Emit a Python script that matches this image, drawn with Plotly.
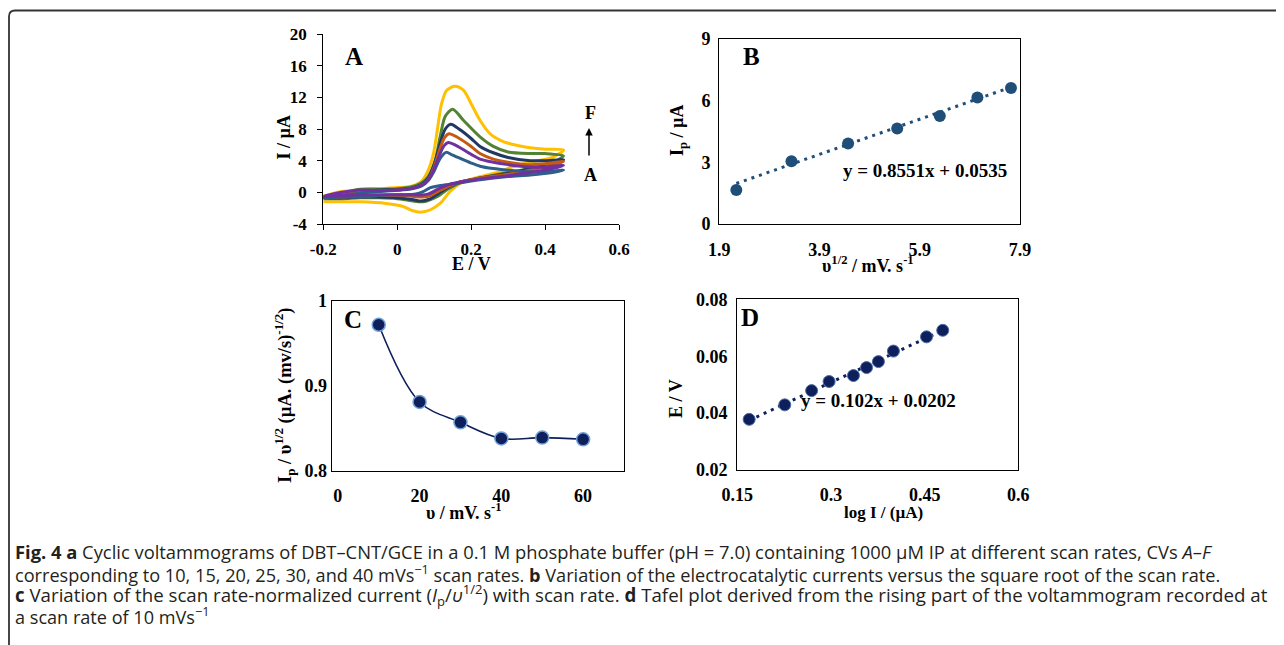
import plotly.graph_objects as go

W, H = 1284, 645
OFF = 8  # page body margin

# ---------------- Panel A: cyclic voltammograms (E / V, I / uA), loop = forward then reverse
cvA_E = [-0.2, -0.15, -0.1, -0.05, 0.0, 0.04, 0.066, 0.084, 0.1, 0.115, 0.132, 0.15, 0.2, 0.224, 0.26, 0.3, 0.36, 0.4, 0.45,
         0.42, 0.36, 0.3, 0.224, 0.17, 0.14, 0.11, 0.09, 0.07, 0.05, 0.02, 0.0, -0.05, -0.1, -0.15, -0.2]
cvA_I = [-0.7, -0.4, -0.1, 0.1, 0.25, 0.45, 0.8, 1.5, 2.7, 4.2, 5.05, 4.7, 3.7, 3.3, 3.0, 2.8, 2.6, 2.6, 2.8,
         2.5, 2.2, 2.0, 1.6, 1.2, 1.0, 0.8, 0.6, 0.1, -0.2, -0.3, -0.3, -0.4, -0.6, -0.6, -0.7]

cvB_E = [-0.2, -0.15, -0.1, -0.05, 0.0, 0.04, 0.066, 0.084, 0.1, 0.115, 0.127, 0.138, 0.16, 0.2, 0.224, 0.26, 0.3, 0.36, 0.4, 0.45,
         0.42, 0.36, 0.3, 0.224, 0.17, 0.14, 0.11, 0.085, 0.065, 0.04, 0.0, -0.05, -0.1, -0.15, -0.2]
cvB_I = [-0.5, 0.0, 0.3, 0.2, 0.3, 0.5, 0.9, 1.6, 3.0, 4.8, 5.9, 6.3, 5.9, 4.8, 4.2, 3.8, 3.5, 3.2, 3.2, 3.4,
         3.0, 2.5, 2.1, 1.7, 1.3, 1.0, 0.4, -0.2, -0.35, -0.3, -0.3, -0.3, -0.3, -0.4, -0.5]

cvC_E = [-0.2, -0.15, -0.1, -0.05, 0.0, 0.04, 0.066, 0.084, 0.1, 0.115, 0.128, 0.14, 0.165, 0.2, 0.224, 0.26, 0.3, 0.36, 0.4, 0.45,
         0.42, 0.36, 0.3, 0.224, 0.17, 0.14, 0.11, 0.085, 0.065, 0.04, 0.0, -0.05, -0.1, -0.15, -0.2]
cvC_I = [-0.6, -0.2, 0.1, 0.2, 0.3, 0.5, 0.9, 1.6, 3.2, 5.4, 6.9, 7.4, 6.9, 5.8, 4.9, 4.2, 3.8, 3.5, 3.6, 3.9,
         3.4, 2.8, 2.3, 1.8, 1.3, 0.8, 0.1, -0.5, -0.6, -0.5, -0.4, -0.4, -0.5, -0.6, -0.6]

cvD_E = [-0.2, -0.15, -0.1, -0.05, 0.0, 0.04, 0.066, 0.084, 0.1, 0.115, 0.13, 0.145, 0.17, 0.2, 0.224, 0.26, 0.3, 0.36, 0.4, 0.45,
         0.42, 0.36, 0.3, 0.224, 0.17, 0.14, 0.11, 0.085, 0.065, 0.04, 0.0, -0.05, -0.1, -0.15, -0.2]
cvD_I = [-0.7, -0.3, 0.1, 0.3, 0.35, 0.55, 1.0, 1.8, 3.5, 6.0, 8.0, 8.6, 7.9, 6.8, 5.8, 5.0, 4.4, 4.0, 4.0, 4.1,
         3.6, 3.0, 2.4, 1.8, 1.3, 0.7, -0.2, -0.9, -1.1, -0.9, -0.7, -0.6, -0.6, -0.7, -0.7]

cvE_E = [-0.2, -0.15, -0.1, -0.05, 0.0, 0.04, 0.066, 0.084, 0.103, 0.116, 0.13, 0.15, 0.179, 0.224, 0.26, 0.3, 0.36, 0.4, 0.45,
         0.42, 0.36, 0.3, 0.224, 0.17, 0.14, 0.11, 0.08, 0.06, 0.03, 0.0, -0.05, -0.1, -0.15, -0.2]
cvE_I = [-0.6, -0.1, 0.4, 0.4, 0.45, 0.7, 1.2, 2.0, 4.1, 7.0, 9.6, 10.5, 9.1, 7.0, 5.8, 5.1, 4.9, 4.9, 4.6,
         3.8, 3.0, 2.5, 1.8, 1.2, 0.5, -0.5, -1.1, -1.2, -1.0, -0.8, -0.7, -0.7, -0.8, -0.8]

cvF_E = [-0.2, -0.15, -0.1, -0.05, 0.0, 0.035, 0.05, 0.066, 0.084, 0.098, 0.107, 0.12, 0.134, 0.156, 0.179, 0.2, 0.224, 0.251, 0.278, 0.3, 0.35, 0.4, 0.45,
         0.42, 0.37, 0.31, 0.278, 0.224, 0.17, 0.143, 0.116, 0.09, 0.066, 0.04, 0.017, -0.03, -0.1, -0.15, -0.2]
cvF_I = [-0.5, 0.1, 0.3, 0.45, 0.6, 0.75, 0.95, 1.4, 2.8, 4.9, 7.4, 11.2, 12.9, 13.4, 12.9, 11.2, 9.1, 7.4, 6.6, 6.2, 5.7, 5.45, 5.35,
         4.4, 3.9, 3.2, 2.6, 1.97, 1.13, 0.1, -1.4, -2.2, -2.5, -2.3, -1.8, -1.4, -1.2, -1.2, -1.2]

# ---------------- Panel B
b_x = [2.24, 3.34, 4.47, 5.45, 6.30, 7.05, 7.72]
b_y = [1.65, 3.05, 3.92, 4.65, 5.25, 6.15, 6.62]
b_slope, b_icpt = 0.8551, 0.0535

# ---------------- Panel C
c_x = [10, 20, 30, 40, 50, 60]
c_y = [0.972, 0.881, 0.857, 0.838, 0.839, 0.837]

# ---------------- Panel D
d_x = [0.169, 0.226, 0.269, 0.297, 0.336, 0.357, 0.376, 0.400, 0.453, 0.479]
d_y = [0.0378, 0.0429, 0.0479, 0.0511, 0.0532, 0.0560, 0.0581, 0.0618, 0.0668, 0.0691]
d_slope, d_icpt = 0.102, 0.0202


def px(x):
    return (x - OFF) / W


def py(y):
    return 1 - (y - OFF) / H


fig = go.Figure()

cv_order = [(cvF_E, cvF_I, "#FFC000"), (cvE_E, cvE_I, "#548235"), (cvD_E, cvD_I, "#203864"),
            (cvC_E, cvC_I, "#C55A11"), (cvA_E, cvA_I, "#2E5F8A"), (cvB_E, cvB_I, "#7030A0")]
for e, i, col in cv_order:
    fig.add_trace(go.Scatter(x=e, y=i, mode="lines", line=dict(color=col, width=3, shape="spline", smoothing=0.8),
                             xaxis="x", yaxis="y", showlegend=False, hoverinfo="skip"))

# B
bx0, bx1 = b_x[0], b_x[-1]
fig.add_trace(go.Scatter(x=[bx0, bx1], y=[b_slope * bx0 + b_icpt, b_slope * bx1 + b_icpt], mode="lines",
                         line=dict(color="#1F4E79", width=3, dash="3px,5px"), xaxis="x2", yaxis="y2", showlegend=False))
fig.add_trace(go.Scatter(x=b_x, y=b_y, mode="markers", marker=dict(color="#1F4E79", size=12),
                         xaxis="x2", yaxis="y2", showlegend=False))
# C
fig.add_trace(go.Scatter(x=c_x, y=c_y, mode="lines+markers", line=dict(color="#0E1F5B", width=1.6, shape="spline"),
                         marker=dict(color="#0E1F5B", size=13, line=dict(color="#6F9FD8", width=1.5)),
                         xaxis="x3", yaxis="y3", showlegend=False))
# D
dx0, dx1 = d_x[0], d_x[-1]
fig.add_trace(go.Scatter(x=[dx0, dx1], y=[d_slope * dx0 + d_icpt, d_slope * dx1 + d_icpt], mode="lines",
                         line=dict(color="#0E1F5B", width=3, dash="3px,5px"), xaxis="x4", yaxis="y4", showlegend=False))
fig.add_trace(go.Scatter(x=d_x, y=d_y, mode="markers",
                         marker=dict(color="#0E1F5B", size=12, line=dict(color="#4A6FA8", width=1)),
                         xaxis="x4", yaxis="y4", showlegend=False))


def ax(domain, rng, tickvals, ticktext, anchor, box, ticks, standoff, fs):
    return dict(domain=domain, range=rng, tickvals=tickvals, ticktext=ticktext, anchor=anchor,
                showline=True, linecolor="black", linewidth=1.2, mirror=box,
                ticks=ticks, ticklen=5, tickcolor="black", tickwidth=1.2, automargin=False,
                showgrid=False, zeroline=False,
                tickfont=dict(family="Liberation Serif", size=fs, color="black", weight="bold"),
                ticklabelstandoff=standoff, fixedrange=True)


fig.update_layout(
    width=W, height=H, autosize=False, margin=dict(l=0, r=0, t=0, b=0, pad=0),
    paper_bgcolor="white", plot_bgcolor="white", showlegend=False,
    xaxis=ax([px(323.3), px(619)], [-0.2, 0.6], [-0.2, 0, 0.2, 0.4, 0.6], ["-0.2", "0", "0.2", "0.4", "0.6"], "y", False, "outside", 4, 17),
    yaxis=ax([py(224), py(34)], [-4, 20], [-4, 0, 4, 8, 12, 16, 20], ["-4", "0", "4", "8", "12", "16", "20"], "x", False, "outside", 7, 17),
    xaxis2=ax([px(719.3), px(1020)], [1.9, 7.9], [1.9, 3.9, 5.9, 7.9], ["1.9", "3.9", "5.9", "7.9"], "y2", True, "", 9, 18),
    yaxis2=ax([py(224), py(39)], [0, 9], [0, 3, 6, 9], ["0", "3", "6", "9"], "x2", True, "", 4, 18),
    xaxis3=ax([px(331.7), px(624)], [-1.5, 70], [0, 20, 40, 60], ["0", "20", "40", "60"], "y3", True, "", 9, 18),
    yaxis3=ax([py(470.7), py(301)], [0.8, 1.0], [0.8, 0.9, 1.0], ["0.8", "0.9", "1"], "x3", True, "", 0, 18),
    xaxis4=ax([px(737.3), px(1018.3)], [0.15, 0.6], [0.15, 0.3, 0.45, 0.6], ["0.15", "0.3", "0.45", "0.6"], "y4", True, "", 8, 18),
    yaxis4=ax([py(470), py(299.3)], [0.02, 0.08], [0.02, 0.04, 0.06, 0.08], ["0.02", "0.04", "0.06", "0.08"], "x4", True, "", 5, 18),
)

ann = []


def label(text, x, y, size=18, angle=0, family="Liberation Serif", bold=True, xanchor="center"):
    ann.append(dict(text=text, x=px(x), y=py(y), xref="paper", yref="paper", showarrow=False,
                    xanchor=xanchor, yanchor="middle", textangle=angle,
                    font=dict(family=family, size=size, color="black", weight="bold" if bold else "normal")))


# axis titles
label("I / µA", 283.5, 138, angle=-90)
label("E / V", 471, 264)
label("I<sub>p</sub> / µA", 679, 131, angle=-90)
label("υ<sup>1/2</sup> / mV. s<sup>-1</sup>", 868, 265)
label("I<sub>p</sub> / υ<sup>1/2</sup> (µA. (mv/s)<sup>-1/2</sup>)", 284, 396, size=18.5, angle=-90)
label("υ / mV. s<sup>-1</sup>", 464, 511)
label("E / V", 676, 398, angle=-90)
label("log I / (µA)", 883, 512, size=17)
# panel letters
label("A", 353.5, 56, size=25)
label("B", 752, 57, size=25)
label("C", 353, 319.5, size=25)
label("D", 750, 317.5, size=25)
# equations
label("y = 0.8551x + 0.0535", 925, 170, size=19)
label("y = 0.102x + 0.0202", 878, 400, size=19)
# series labels in A
label("F", 590, 113, size=18)
label("A", 590, 175, size=18)
ann.append(dict(x=px(589), y=py(128), xref="paper", yref="paper", ax=0, ay=29, text="", showarrow=True,
                arrowhead=2, arrowsize=1, arrowwidth=1.5, arrowcolor="black"))

# caption
cap_font = "Open Sans"
lines = [
    "<b>Fig. 4 a</b> Cyclic voltammograms of DBT–CNT/GCE in a 0.1 M phosphate buffer (pH = 7.0) containing 1000 µM IP at different scan rates, CVs <i>A</i>–<i>F</i>",
    "corresponding to 10, 15, 20, 25, 30, and 40 mVs<sup>−1</sup> scan rates. <b>b</b> Variation of the electrocatalytic currents versus the square root of the scan rate.",
    "<b>c</b> Variation of the scan rate-normalized current (<i>I</i><sub>p</sub>/<i>υ</i><sup>1/2</sup>) with scan rate. <b>d</b> Tafel plot derived from the rising part of the voltammogram recorded at",
    "a scan rate of 10 mVs<sup>−1</sup>",
]
cap_sizes = [18.35, 18.15, 18.7, 18.1]
for t, yy, fsz in zip(lines, [551, 573, 594.5, 615.5], cap_sizes):
    ann.append(dict(text=t, x=px(13), y=py(yy), xref="paper", yref="paper", showarrow=False,
                    xanchor="left", yanchor="middle", font=dict(family=cap_font, size=fsz, color="#231F20")))

fig.update_layout(annotations=ann)

# rounded frame
path = "M {:.5f},{:.5f} L {:.5f},{:.5f} Q {:.5f},{:.5f} {:.5f},{:.5f} L {:.5f},{:.5f}".format(
    px(1300), py(10.5), px(15), py(10.5), px(9), py(10.5), px(9), py(16.5), px(9), py(660))
fig.add_shape(type="path", path=path, xref="paper", yref="paper", line=dict(color="#333333", width=1.8))

fig.write_html("out.html")
